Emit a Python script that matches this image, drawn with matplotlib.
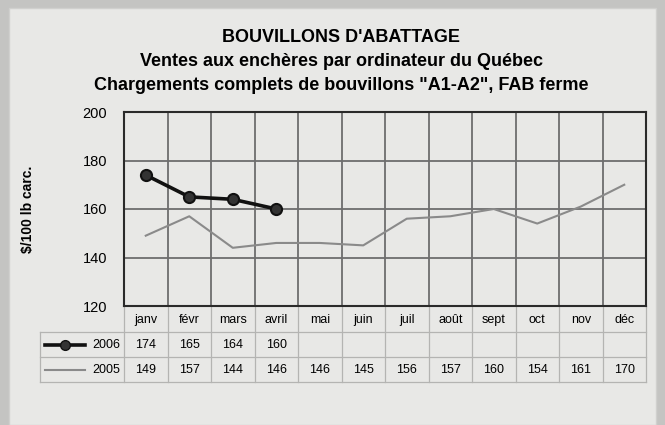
import matplotlib

matplotlib.use("Agg")
import matplotlib.pyplot as plt
from matplotlib.patches import Rectangle
from matplotlib.lines import Line2D
import matplotlib.transforms as mtransforms

months = ["janv", "févr", "mars", "avril", "mai", "juin",
          "juil", "août", "sept", "oct", "nov", "déc"]
prix_2006 = [174, 165, 164, 160]
prix_2005 = [149, 157, 144, 146, 146, 145, 156, 157, 160, 154, 161, 170]
y_ticks = [120, 140, 160, 180, 200]

plt.rcParams["font.family"] = ["Liberation Sans", "DejaVu Sans"]

W, H = 665, 425
fig = plt.figure(figsize=(W / 100, H / 100), dpi=100, facecolor="#c4c4c2")
# light panel of the scanned page
fig.patches.append(Rectangle((9 / W, 0), (656 - 9) / W, (H - 8) / H,
                             transform=fig.transFigure, facecolor="#e8e8e6",
                             edgecolor="#d0d0ce", linewidth=1, zorder=-5))


def px(x0, y0, x1, y1):
    return [x0 / W, 1 - y1 / H, (x1 - x0) / W, (y1 - y0) / H]


ax = fig.add_axes(px(124, 112, 646, 306))
ax.set_facecolor("#e8e8e6")
x = list(range(len(months)))
ax.set_xlim(-0.5, len(months) - 0.5)
ax.set_ylim(120, 200)

# grid: horizontal at ticks, vertical at category boundaries
for v in y_ticks[1:-1]:
    ax.axhline(v, color="#6e6e6e", lw=1.3, zorder=1)
for b in range(1, len(months)):
    ax.axvline(b - 0.5, color="#6e6e6e", lw=1.3, zorder=1)
for s in ax.spines.values():
    s.set_color("#2a2a2a")
    s.set_linewidth(1.5)

ax.plot(x, prix_2005, color="#8a8a8a", lw=1.5, zorder=3)
ax.plot(x[:len(prix_2006)], prix_2006, color="#111111", lw=2.6,
        marker="o", ms=8, mfc="#333333", mec="#111111", mew=1.5, zorder=4)

ax.set_yticks(y_ticks)
ax.set_yticklabels([str(v) for v in y_ticks], fontsize=10.5)
ax.tick_params(axis="y", length=0, pad=12)
ax.set_xticks([])

ax.text((28 - 124) / 522, 0.5, "$/100 lb carc.", transform=ax.transAxes, rotation=90,
        ha="center", va="center", fontsize=10, fontweight="bold")

# data table under the axis
trans = mtransforms.blended_transform_factory(ax.transData, ax.transAxes)
row_y = [-0.072, -0.201, -0.330]
line_y = [-0.134, -0.263, -0.392]
left_ax = (40 - 124) / 522
for i, m in enumerate(months):
    ax.text(i, row_y[0], m, transform=trans, ha="center", va="center", fontsize=9)
for i, v in enumerate(prix_2006):
    ax.text(i, row_y[1], str(v), transform=trans, ha="center", va="center", fontsize=9)
for i, v in enumerate(prix_2005):
    ax.text(i, row_y[2], str(v), transform=trans, ha="center", va="center", fontsize=9)

grid_kw = dict(color="#b4b4b2", lw=0.9, clip_on=False, zorder=0)
for b in range(len(months) + 1):
    ax.add_line(Line2D([b - 0.5, b - 0.5], [0, line_y[-1]], transform=trans, **grid_kw))
for ly in line_y:
    ax.add_line(Line2D([left_ax, 1], [ly, ly], transform=ax.transAxes, **grid_kw))
ax.add_line(Line2D([left_ax, left_ax], [line_y[0], line_y[-1]], transform=ax.transAxes, **grid_kw))

# legend keys in the table
kx0, kx1 = (45 - 124) / 522, (85 - 124) / 522
ax.add_line(Line2D([kx0, kx1], [row_y[1]] * 2, transform=ax.transAxes, color="#111111",
                   lw=2.6, clip_on=False))
ax.add_line(Line2D([(kx0 + kx1) / 2], [row_y[1]], transform=ax.transAxes, marker="o", ms=7,
                   mfc="#333333", mec="#111111", clip_on=False))
ax.add_line(Line2D([kx0, kx1], [row_y[2]] * 2, transform=ax.transAxes, color="#8a8a8a",
                   lw=1.5, clip_on=False))
lab_x = (120 - 124) / 522
ax.text(lab_x, row_y[1], "2006", transform=ax.transAxes, ha="right", va="center", fontsize=9)
ax.text(lab_x, row_y[2], "2005", transform=ax.transAxes, ha="right", va="center", fontsize=9)

# titles
fig.text(341 / W, 1 - 37 / H, "BOUVILLONS D'ABATTAGE", ha="center", va="center",
         fontsize=13, fontweight="bold")
fig.text(341 / W, 1 - 61 / H, "Ventes aux enchères par ordinateur du Québec",
         ha="center", va="center", fontsize=13, fontweight="bold")
fig.text(341 / W, 1 - 86 / H, 'Chargements complets de bouvillons "A1-A2", FAB ferme',
         ha="center", va="center", fontsize=13, fontweight="bold")

fig.savefig("out.png", dpi=100, facecolor=fig.get_facecolor())
